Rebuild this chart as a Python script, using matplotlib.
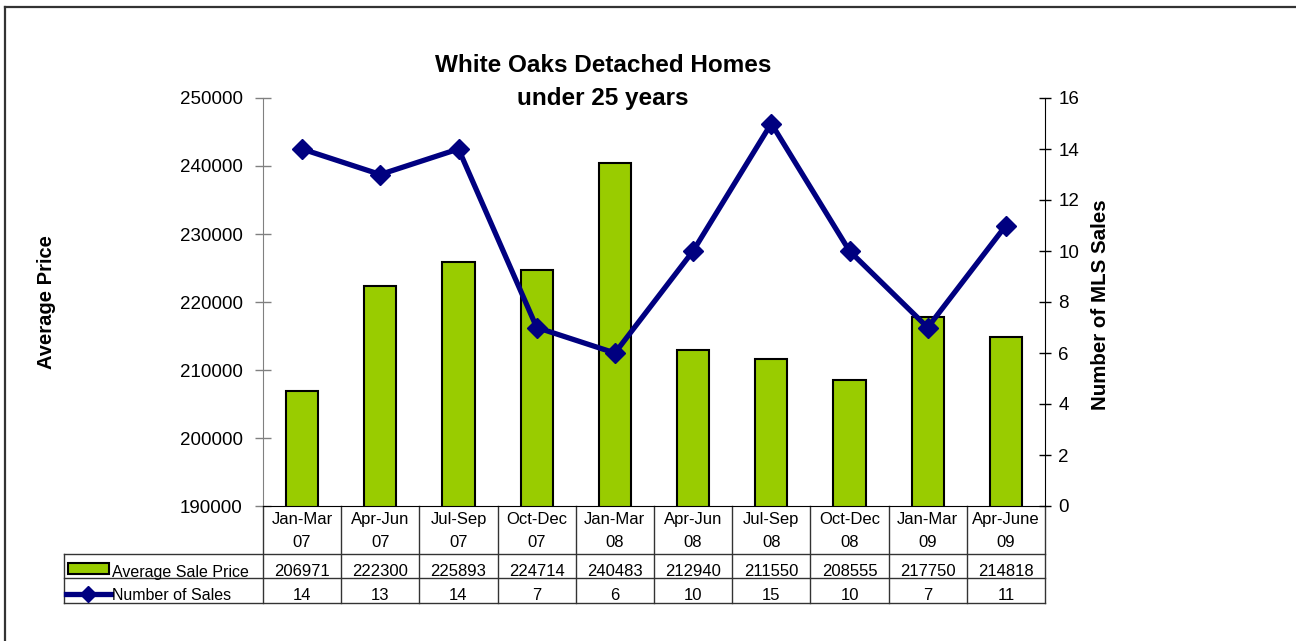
import matplotlib.pyplot as plt
from matplotlib.lines import Line2D
from matplotlib.patches import Rectangle
import numpy as np

quarters = ["Jan-Mar\n07", "Apr-Jun\n07", "Jul-Sep\n07", "Oct-Dec\n07", "Jan-Mar\n08",
            "Apr-Jun\n08", "Jul-Sep\n08", "Oct-Dec\n08", "Jan-Mar\n09", "Apr-June\n09"]
avg_price = [206971, 222300, 225893, 224714, 240483, 212940, 211550, 208555, 217750, 214818]
num_sales = [14, 13, 14, 7, 6, 10, 15, 10, 7, 11]
price_ticks = [190000, 200000, 210000, 220000, 230000, 240000, 250000]
sales_ticks = [0, 2, 4, 6, 8, 10, 12, 14, 16]

plt.rcParams['font.family'] = ['Liberation Sans', 'DejaVu Sans']

green = '#99CC00'
navy = '#000080'
W, H = 1296, 641

fig = plt.figure(figsize=(W / 100, H / 100), dpi=100)
ax = fig.add_axes([263 / W, 135 / H, 782 / W, 408 / H])
x = np.arange(len(quarters))

ax.bar(x, avg_price, width=0.41, color=green, edgecolor='black', linewidth=1.5, zorder=2)
ax.set_xlim(-0.5, len(quarters) - 0.5)
ax.set_ylim(price_ticks[0], price_ticks[-1])
ax.set_yticks(price_ticks)
ax.set_xticks([])
ax.tick_params(axis='y', direction='inout', length=11, width=1, color='#808080',
               labelsize=13.5, pad=9)
for s in ['top', 'right']:
    ax.spines[s].set_visible(False)
ax.spines['left'].set_color('#808080')
ax.spines['bottom'].set_color('black')

ax2 = ax.twinx()
ax2.plot(x, num_sales, color=navy, lw=3.8, marker='D', ms=10.5, zorder=3)
ax2.set_ylim(sales_ticks[0], sales_ticks[-1])
ax2.set_yticks(sales_ticks)
ax2.tick_params(axis='y', direction='inout', length=9, width=1, color='black',
                labelsize=13.5, pad=5)
for s in ['top', 'left', 'bottom']:
    ax2.spines[s].set_visible(False)
ax2.spines['right'].set_color('black')

# titles and axis labels
fig.text(603 / W, 1 - 65 / H, "White Oaks Detached Homes", ha='center', va='center',
         fontsize=17.5, fontweight='bold')
fig.text(603 / W, 1 - 98 / H, "under 25 years", ha='center', va='center',
         fontsize=17.5, fontweight='bold')
fig.text(46 / W, 1 - 302 / H, "Average Price", rotation=90, ha='center', va='center',
         fontsize=14.5, fontweight='bold')
fig.text(1101 / W, 1 - 305 / H, "Number of MLS Sales", rotation=90, ha='center', va='center',
         fontsize=14.8, fontweight='bold')

# data table below the axes
tr = ax.get_xaxis_transform()
px_unit = 782 / len(quarters)


def xpx(px):
    return -0.5 + (px - 263) / px_unit


def ypx(py):
    return (506 - py) / 408


r1, r2, r3 = ypx(554), ypx(578), ypx(603)
bounds = np.arange(len(quarters) + 1) - 0.5
xl = xpx(64)
lc = '#333333'
for b in bounds:
    ax.add_line(Line2D([b, b], [0, r3], transform=tr, color=lc, lw=1, clip_on=False))
ax.add_line(Line2D([xl, xl], [r1, r3], transform=tr, color=lc, lw=1, clip_on=False))
for r in [r1, r2, r3]:
    ax.add_line(Line2D([xl, bounds[-1]], [r, r], transform=tr, color=lc, lw=1, clip_on=False))

for i, q in enumerate(quarters):
    ax.text(i, ypx(531), q, transform=tr, ha='center', va='center', fontsize=12,
            linespacing=1.6, clip_on=False)
    ax.text(i, ypx(571), str(avg_price[i]), transform=tr, ha='center', va='center',
            fontsize=12, clip_on=False)
    ax.text(i, ypx(595), str(num_sales[i]), transform=tr, ha='center', va='center',
            fontsize=12, clip_on=False)

# legend keys in the table
ax.add_patch(Rectangle((xpx(68), ypx(574)), xpx(109) - xpx(68), ypx(563) - ypx(574),
                       transform=tr, facecolor=green, edgecolor='black', lw=1.5, clip_on=False))
ax.text(xpx(112), ypx(572), "Average Sale Price", transform=tr, ha='left', va='center',
        fontsize=11.5, clip_on=False)
ax.add_line(Line2D([xpx(66), xpx(111)], [ypx(594), ypx(594)], transform=tr, color=navy,
                   lw=3.8, clip_on=False))
ax.add_line(Line2D([xpx(88)], [ypx(594)], transform=tr, color=navy, marker='D', ms=8,
                   clip_on=False))
ax.text(xpx(112), ypx(596), "Number of Sales", transform=tr, ha='left', va='center',
        fontsize=11.5, clip_on=False)

# outer frame (top and left edges)
fig.add_artist(Line2D([4.5 / W, 1], [1 - 6.5 / H, 1 - 6.5 / H], transform=fig.transFigure,
                      color='#333333', lw=1.6))
fig.add_artist(Line2D([4.5 / W, 4.5 / W], [0, 1 - 6.5 / H], transform=fig.transFigure,
                      color='#333333', lw=1.6))

fig.savefig("out.png", dpi=100)
